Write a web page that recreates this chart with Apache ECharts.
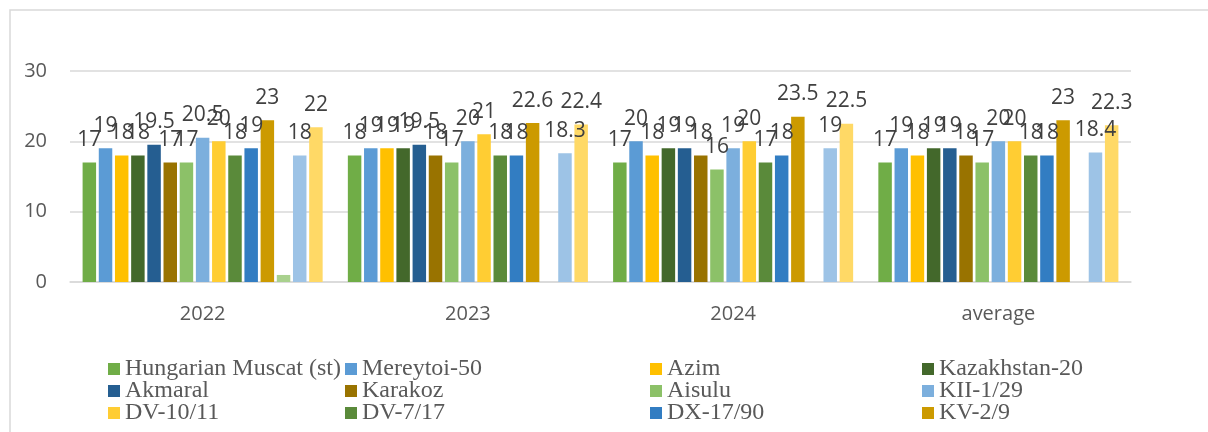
<!DOCTYPE html>
<html>
<head>
<meta charset="utf-8">
<script src="https://cdn.jsdelivr.net/npm/echarts@6/dist/echarts.min.js"></script>
<style>
  html, body { margin: 0; padding: 0; background: #fff; }
  #chart { width: 1208px; height: 432px; }
</style>
</head>
<body>
<div id="chart"></div>
<script>
const years = ['2022', '2023', '2024', 'average']
const yTicks = [0, 10, 20, 30]

const names = [
  'Hungarian Muscat (st)', 'Mereytoi-50', 'Azim', 'Kazakhstan-20',
  'Akmaral', 'Karakoz', 'Aisulu', 'KII-1/29',
  'DV-10/11', 'DV-7/17', 'DX-17/90', 'KV-2/9',
  'Series 13', 'Series 14', 'Series 15'
]
const colors = [
  '#70AD47', '#5B9BD5', '#FFC000', '#43682B',
  '#255E91', '#997300', '#8CC168', '#7CAFDD',
  '#FFCD33', '#5A8A3A', '#327DC2', '#CC9A00',
  '#A9D18E', '#9DC3E6', '#FFD966'
]

const hungarianMuscat = [17, 18, 17, 17]
const mereytoi50 = [19, 19, 20, 19]
const azim = [18, 19, 18, 18]
const kazakhstan20 = [18, 19, 19, 19]
const akmaral = [19.5, 19.5, 19, 19]
const karakoz = [17, 18, 18, 18]
const aisulu = [17, 17, 16, 17]
const kii129 = [20.5, 20, 19, 20]
const dv1011 = [20, 21, 20, 20]
const dv717 = [18, 18, 17, 18]
const dx1790 = [19, 18, 18, 18]
const kv29 = [23, 22.6, 23.5, 23]
const series13 = [1, null, null, null]
const series14 = [18, 18.3, 19, 18.4]
const series15 = [22, 22.4, 22.5, 22.3]

const values = [
  hungarianMuscat, mereytoi50, azim, kazakhstan20,
  akmaral, karakoz, aisulu, kii129,
  dv1011, dv717, dx1790, kv29,
  series13, series14, series15
]

// legend columns as laid out in the picture (last three series are cut off)
const legendColumns = [
  { left: 108, data: [names[0], names[4], names[8]] },
  { left: 345, data: [names[1], names[5], names[9]] },
  { left: 650, data: [names[2], names[6], names[10]] },
  { left: 922, data: [names[3], names[7], names[11]] }
]

const chart = echarts.init(document.getElementById('chart'))
chart.setOption({
  animation: false,
  color: colors,
  graphic: [{
    type: 'rect',
    shape: { x: 10, y: 10, width: 1300, height: 500 },
    style: { fill: 'none', stroke: '#d9d9d9', lineWidth: 1.5 },
    silent: true
  }],
  legend: legendColumns.map((col) => {
    return {
      orient: 'vertical',
      left: col.left,
      top: 357,
      height: 100,
      padding: 0,
      itemWidth: 12,
      itemHeight: 12,
      itemGap: -2,
      selectedMode: false,
      icon: 'rect',
      textStyle: {
        fontFamily: 'Liberation Serif',
        fontSize: 24,
        lineHeight: 20,
        color: '#595959'
      },
      data: col.data
    }
  }),
  grid: {
    left: 70,
    right: 77,
    top: 71,
    bottom: 150
  },
  xAxis: {
    type: 'category',
    data: years,
    axisTick: { show: false },
    axisLine: { lineStyle: { color: '#d9d9d9', width: 1.5 } },
    axisLabel: {
      margin: 22,
      fontFamily: 'Open Sans',
      fontSize: 20,
      color: '#595959'
    }
  },
  yAxis: {
    type: 'value',
    min: yTicks[0],
    max: yTicks[yTicks.length - 1],
    interval: 10,
    axisLine: { show: false },
    axisTick: { show: false },
    splitLine: { lineStyle: { color: '#d9d9d9', width: 1.5 } },
    axisLabel: {
      margin: 23,
      fontFamily: 'Open Sans',
      fontSize: 20,
      color: '#595959'
    }
  },
  series: values.map((data, i) => {
    return {
      name: names[i],
      type: 'bar',
      data: data,
      barGap: '20%',
      barCategoryGap: '9.5%',
      itemStyle: { color: colors[i] },
      label: {
        show: i !== 12,
        position: 'top',
        distance: 12,
        fontFamily: 'Open Sans',
        fontSize: 21,
        color: '#404040'
      }
    }
  })
})
</script>
</body>
</html>
